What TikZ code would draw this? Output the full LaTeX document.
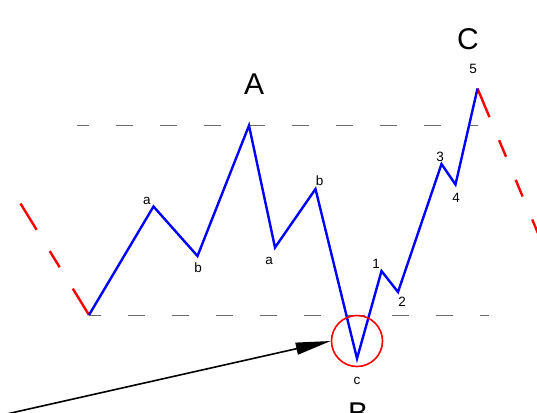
\documentclass[tikz,border=0pt]{standalone}
\usepackage{fontspec}
\setmainfont{Liberation Sans}
\usetikzlibrary{arrows.meta}
\definecolor{guidegrey}{HTML}{6A6A6A}
\begin{document}
\begin{tikzpicture}[x=1pt,y=-1pt,
  wave/.style={blue,line width=2.4pt,line join=miter},
  reddash/.style={red,line width=2.4pt},
  guide/.style={draw=guidegrey,line width=1.8pt,dash pattern=on 17.5pt off 26.5pt,dash phase=5.5pt},
  small/.style={inner sep=0pt,font=\fontsize{13.5}{13.5}\selectfont},
  big/.style={inner sep=0pt,font=\fontsize{30}{30}\selectfont},
  ringst/.style={circle,draw=red,line width=1.6pt,minimum size=51pt,inner sep=0pt}]
\useasboundingbox (0,0) rectangle (537,412);
\clip (0,0) rectangle (537,412);
% wave points
\coordinate (p0) at (89,315);
\coordinate (pa) at (153.5,206.5);
\coordinate (pb) at (197.5,256);
\coordinate (pA) at (249,125.5);
\coordinate (pa2) at (275,247.5);
\coordinate (pb2) at (315.5,189);
\coordinate (pc) at (357,358.5);
\coordinate (p1) at (381.5,271);
\coordinate (p2) at (398,292);
\coordinate (p3) at (441.5,164);
\coordinate (p4) at (455.5,184.5);
\coordinate (p5) at (477.5,88.5);
\coordinate (lstart) at (20.5,203.5);
\coordinate (rend) at (550,262);
% guide lines
\coordinate (tg1) at (77,125.5);
\coordinate (tg2) at (478,125.5);
\coordinate (bg1) at (89,315.5);
\coordinate (bg2) at (489,315.5);
\draw[guide] (tg1) -- (tg2);
\draw[guide] (bg1) -- (bg2);
% red dashed extensions
\draw[reddash,dash pattern=on 31pt off 25pt on 19pt off 25pt] (p0) -- (lstart);
\draw[reddash,dash pattern=on 31pt off 25pt on 18pt off 25pt on 18pt off 25pt on 18pt off 25pt on 18pt off 25pt] (p5) -- (rend);
% blue wave
\draw[wave] (p0) -- (pa) -- (pb) -- (pA) -- (pa2) -- (pb2) -- (pc) -- (p1) -- (p2) -- (p3) -- (p4) -- (p5);
% circle and arrow
\node[ringst] (ring) at (357,341) {};
\coordinate (astart) at (0,415.5);
\draw[line width=1.6pt,-{Triangle[length=35pt,width=12pt]}] (astart) -- (ring.west);
% labels
\node[small] (la1) at (147,200.5) {a};
\node[small] (lb1) at (198,268) {b};
\node[small] (la2) at (269,261) {a};
\node[small] (lb2) at (319.5,181) {b};
\node[small] (lc) at (357,381) {c};
\node[small] (l1) at (376,264) {1};
\node[small] (l2) at (402,302) {2};
\node[small] (l3) at (440,157) {3};
\node[small] (l4) at (456,198) {4};
\node[small] (l5) at (473,69) {5};
\node[big] (lA) at (254,84) {A};
\node[big] (lC) at (468,39) {C};
\node[big] (lB) at (358,413) {B};
\end{tikzpicture}
\end{document}
